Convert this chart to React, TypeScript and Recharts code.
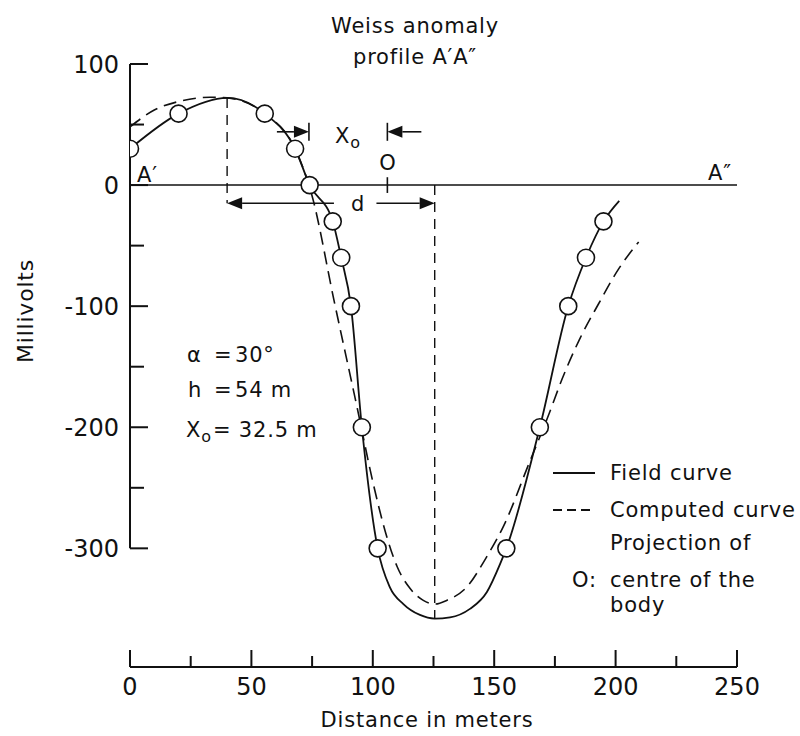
import { ComposedChart, Line, Scatter, XAxis, YAxis, ReferenceLine, Legend } from "recharts";

const FONT = '"DejaVu Sans", "Liberation Sans", sans-serif';
const INK = "#111";

const seriesNames = ["Field curve", "Computed curve"];

// measured stations (open circles)
const stationX = [0, 20, 55.5, 68, 74, 83.5, 87, 91, 95.5, 102, 155, 168.8, 180.5, 187.8, 195];
const stationMv = [30, 59, 59, 30, 0, -30, -60, -100, -200, -300, -300, -200, -100, -60, -30];

// field curve traced through the stations
const fieldX = [0, 20, 40, 55.5, 68, 74, 83.5, 87, 91, 95.5, 102, 107, 112.6, 119.4, 125.5, 131.8, 140, 147, 152.4, 155, 168.8, 180.5, 187.8, 195, 201.5];
const fieldMv = [30, 59, 72, 59, 30, 0, -30, -60, -100, -200, -300, -332, -346, -355, -358, -357, -350, -336, -313, -300, -200, -100, -60, -30, -13];

// computed curve
const computedX = [0, 10, 20, 33, 40, 55.5, 68, 75, 84, 94, 100, 105.7, 110, 115.3, 120.8, 125.6, 130.4, 138.7, 146.9, 154, 164.5, 172, 178, 185, 193, 201, 209.5];
const computedMv = [48, 62, 69, 72.5, 72, 59, 30, -9, -95, -188, -245, -290, -315, -333, -343, -346, -343, -332, -307, -281, -229, -192, -160, -128, -98, -70, -47];

const xTicks = [0, 25, 50, 75, 100, 125, 150, 175, 200, 225, 250];
const yTicks = [-300, -250, -200, -150, -100, -50, 0, 50, 100];

// annotation anchors (metres / millivolts)
const peakX = 40;
const centreX = 125.5;
const x0Start = 73.7;
const x0End = 106;
const x0Level = 44;
const dLevel = -15;

const toPoints = (xs: number[], ys: number[]) => xs.map((x, i) => ({ x, y: ys[i] }));
const stations = toPoints(stationX, stationMv);
const field = toPoints(fieldX, fieldMv);
const computed = toPoints(computedX, computedMv);

function XTick({ x, y, payload }: any) {
  const v = payload.value;
  const major = v % 50 === 0;
  return (
    <g>
      <line x1={x} x2={x} y1={y} y2={y - (major ? 17 : 11)} stroke={INK} strokeWidth={2} />
      {major && (
        <text x={x} y={y + 28} textAnchor="middle" fontSize={24} fontFamily={FONT} fill={INK}>
          {v}
        </text>
      )}
    </g>
  );
}

function YTick({ x, y, payload }: any) {
  const v = payload.value;
  const major = v % 100 === 0;
  return (
    <g>
      <line x1={x} x2={x + (major ? 18 : 14)} y1={y} y2={y} stroke={INK} strokeWidth={2} />
      {major && (
        <text x={x - 11} y={y} dy="0.36em" textAnchor="end" fontSize={24} fontFamily={FONT} fill={INK}>
          {v}
        </text>
      )}
    </g>
  );
}

function Arrow({ x1, y1, x2, y2, bar }: any) {
  const a = Math.atan2(y2 - y1, x2 - x1);
  const len = 15;
  const half = 6;
  const bx = x2 - len * Math.cos(a);
  const by = y2 - len * Math.sin(a);
  const px = -Math.sin(a) * half;
  const py = Math.cos(a) * half;
  return (
    <g>
      <line x1={x1} y1={y1} x2={bx} y2={by} stroke={INK} strokeWidth={1.6} />
      <polygon points={`${x2},${y2} ${bx + px},${by + py} ${bx - px},${by - py}`} fill={INK} />
      {bar && <line x1={x2} x2={x2} y1={y2 - 9} y2={y2 + 9} stroke={INK} strokeWidth={1.6} />}
    </g>
  );
}

function LegendBox({ payload }: any) {
  const items = (payload || [])
    .filter((p: any) => seriesNames.includes(p.value))
    .sort((a: any, b: any) => seriesNames.indexOf(a.value) - seriesNames.indexOf(b.value));
  return (
    <svg width={260} height={185} style={{ overflow: "visible" }}>
      {items.map((p: any, i: number) => (
        <g key={p.value}>
          <line
            x1={13}
            x2={55}
            y1={33 + i * 37}
            y2={33 + i * 37}
            stroke={INK}
            strokeWidth={1.8}
            strokeDasharray={p.value === "Computed curve" ? "9 5" : undefined}
          />
          <text x={70} y={40 + i * 37} fontSize={21} fontFamily={FONT} fill={INK} letterSpacing={0.8}>
            {p.value}
          </text>
        </g>
      ))}
      <g fontSize={21} fontFamily={FONT} fill={INK} letterSpacing={0.8}>
        <text x={70} y={110}>Projection of</text>
        <text x={32} y={147}>O:</text>
        <text x={70} y={147}>centre of the</text>
        <text x={70} y={172}>body</text>
      </g>
    </svg>
  );
}

export default function App() {
  return (
    <div style={{ position: "absolute", left: 0, top: 0, width: 800, height: 736, background: "#fff" }}>
      <ComposedChart width={800} height={736} margin={{ top: 64, right: 63, bottom: 39, left: 70 }}>
        <XAxis
          type="number"
          dataKey="x"
          domain={[0, 250]}
          ticks={xTicks}
          interval={0}
          tick={<XTick />}
          tickLine={false}
          tickSize={0}
          tickMargin={0}
          axisLine={{ stroke: INK, strokeWidth: 2 }}
          height={30}
          allowDataOverflow
        />
        <YAxis
          type="number"
          dataKey="y"
          domain={[-398, 100]}
          ticks={yTicks}
          interval={0}
          tick={<YTick />}
          tickLine={false}
          tickSize={0}
          tickMargin={0}
          axisLine={false}
          width={60}
          allowDataOverflow
        />
        <ReferenceLine segment={[{ x: 0, y: -300 }, { x: 0, y: 100 }]} stroke={INK} strokeWidth={2} />
        <ReferenceLine y={0} stroke={INK} strokeWidth={1.5} />
        <ReferenceLine
          segment={[{ x: peakX, y: 72 }, { x: peakX, y: dLevel }]}
          stroke={INK}
          strokeWidth={1.4}
          strokeDasharray="10 7"
        />
        <ReferenceLine
          segment={[{ x: centreX, y: 0 }, { x: centreX, y: -358 }]}
          stroke={INK}
          strokeWidth={1.4}
          strokeDasharray="10 7"
        />
        <ReferenceLine segment={[{ x: x0End, y: 6.5 }, { x: x0End, y: -6.5 }]} stroke={INK} strokeWidth={1.6} />
        <ReferenceLine
          segment={[{ x: 60.5, y: x0Level }, { x: x0Start, y: x0Level }]}
          shape={(p: any) => <Arrow {...p} bar />}
        />
        <ReferenceLine
          segment={[{ x: 120, y: x0Level }, { x: x0End, y: x0Level }]}
          shape={(p: any) => <Arrow {...p} bar />}
        />
        <ReferenceLine
          segment={[{ x: 84, y: dLevel }, { x: peakX, y: dLevel }]}
          shape={(p: any) => <Arrow {...p} />}
        />
        <ReferenceLine
          segment={[{ x: 101.5, y: dLevel }, { x: centreX, y: dLevel }]}
          shape={(p: any) => <Arrow {...p} />}
        />
        <Line
          data={field}
          dataKey="y"
          name={seriesNames[0]}
          type="monotone"
          stroke={INK}
          strokeWidth={1.8}
          dot={false}
          isAnimationActive={false}
        />
        <Line
          data={computed}
          dataKey="y"
          name={seriesNames[1]}
          type="monotone"
          stroke={INK}
          strokeWidth={1.6}
          strokeDasharray="13 7"
          dot={false}
          isAnimationActive={false}
        />
        <Scatter
          data={stations}
          dataKey="y"
          legendType="none"
          isAnimationActive={false}
          shape={(p: any) => <circle cx={p.cx} cy={p.cy} r={8.5} fill="#fff" stroke={INK} strokeWidth={1.6} />}
        />
        <Legend
          layout="horizontal"
          align="center"
          verticalAlign="middle"
          content={(p: any) => <LegendBox {...p} />}
          wrapperStyle={{ left: 540, top: 440, width: 260, height: 185 }}
        />
      </ComposedChart>
      <svg
        width={800}
        height={736}
        style={{ position: "absolute", left: 0, top: 0, pointerEvents: "none" }}
        fontFamily={FONT}
        fill={INK}
        fontSize={21}
        letterSpacing={0.8}
      >
        <text x={415} y={33} textAnchor="middle">Weiss anomaly</text>
        <text x={415} y={64} textAnchor="middle">profile A′A″</text>
        <text transform="translate(33,311) rotate(-90)" textAnchor="middle" fontSize={22}>Millivolts</text>
        <text x={427} y={727} textAnchor="middle">Distance in meters</text>
        <text x={137} y={182}>A′</text>
        <text x={708} y={180}>A″</text>
        <text x={335} y={143}>
          X<tspan fontSize={16} dy={5}>o</tspan>
        </text>
        <text x={388} y={170} textAnchor="middle">O</text>
        <text x={358} y={211} textAnchor="middle">d</text>
        <text y={362}>
          <tspan x={187}>α</tspan>
          <tspan x={214}>=</tspan>
          <tspan x={235}>30°</tspan>
        </text>
        <text y={397}>
          <tspan x={188}>h</tspan>
          <tspan x={214}>=</tspan>
          <tspan x={235}>54 m</tspan>
        </text>
        <text y={437}>
          <tspan x={186}>X</tspan>
          <tspan fontSize={16} dy={5}>o</tspan>
          <tspan x={213} dy={-5}>= 32.5 m</tspan>
        </text>
      </svg>
    </div>
  );
}
